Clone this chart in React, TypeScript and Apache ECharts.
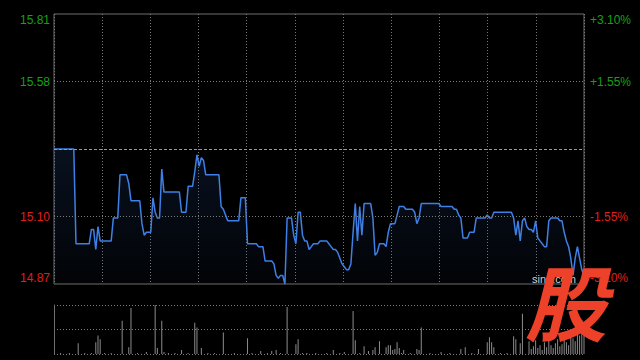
import React, { useEffect, useRef } from 'react';
import * as echarts from 'echarts';

// Intraday price, one value per minute (9:30-11:30, 13:00-15:00)
const PRICE = [
  15.34, 15.34, 15.34, 15.34, 15.34, 15.34, 15.34, 15.34, 15.34, 15.34,
  15.01, 15.01, 15.01, 15.01, 15.01, 15.01, 15.01, 15.06, 15.06, 14.99,
  15.07, 15.02, 15.02, 15.02, 15.02, 15.02, 15.02, 15.10, 15.10, 15.10,
  15.25, 15.25, 15.25, 15.25, 15.22, 15.16, 15.16, 15.16, 15.16, 15.16,
  15.08, 15.04, 15.05, 15.05, 15.05, 15.17, 15.12, 15.10, 15.10, 15.27,
  15.19, 15.19, 15.19, 15.19, 15.19, 15.19, 15.19, 15.19, 15.12, 15.12,
  15.12, 15.21, 15.21, 15.21, 15.26, 15.32, 15.28, 15.31, 15.30, 15.25,
  15.25, 15.25, 15.25, 15.25, 15.25, 15.25, 15.14, 15.13, 15.11, 15.09,
  15.09, 15.09, 15.09, 15.09, 15.09, 15.17, 15.17, 15.17, 15.01, 15.01,
  15.01, 15.01, 15.01, 15.00, 15.00, 15.00, 14.95, 14.95, 14.95, 14.95,
  14.94, 14.90, 14.89, 14.90, 14.90, 14.87, 15.10, 15.10, 15.10, 15.04,
  15.01, 15.12, 15.12, 15.04, 15.02, 15.02, 14.99, 15.00, 15.01, 15.01,
  15.01, 15.02, 15.02, 15.02, 15.02, 15.01, 15.00, 14.99, 14.99, 14.98,
  14.96, 14.94, 14.93, 14.92, 14.92, 14.94, 15.05, 15.15, 15.02, 15.14,
  15.04, 15.15, 15.15, 15.15, 15.15, 15.10, 14.97, 14.98, 15.01, 15.01,
  15.01, 15.00, 15.05, 15.08, 15.08, 15.08, 15.11, 15.14, 15.14, 15.14,
  15.13, 15.13, 15.13, 15.13, 15.12, 15.08, 15.10, 15.15, 15.15, 15.15,
  15.15, 15.15, 15.15, 15.15, 15.15, 15.15, 15.14, 15.14, 15.14, 15.14,
  15.14, 15.14, 15.13, 15.13, 15.11, 15.10, 15.03, 15.03, 15.03, 15.05,
  15.05, 15.05, 15.10, 15.10, 15.10, 15.10, 15.10, 15.11, 15.10, 15.10,
  15.12, 15.12, 15.12, 15.12, 15.12, 15.12, 15.12, 15.12, 15.12, 15.10,
  15.04, 15.09, 15.02, 15.09, 15.10, 15.07, 15.06, 15.06, 15.05, 15.09,
  15.03, 15.02, 15.01, 15.00, 15.00, 15.09, 15.10, 15.10, 15.10, 15.10,
  15.09, 15.09, 15.05, 15.02, 15.00, 14.96, 14.90, 14.96, 15.00, 14.96,
  14.92, 14.90,
];

// Volume per minute (relative units)
const VOLUME = [
  0, 0, 0, 1, 0, 0, 0, 1, 0, 0,
  0, 11, 0, 0, 1, 0, 0, 1, 0, 12,
  19, 15, 0, 1, 0, 0, 1, 0, 0, 0,
  0, 34, 0, 0, 7, 47, 0, 0, 1, 0,
  0, 0, 2, 0, 0, 0, 50, 6, 0, 34,
  2, 0, 1, 0, 0, 1, 0, 0, 4, 0,
  0, 1, 0, 0, 32, 27, 0, 6, 0, 0,
  1, 0, 0, 1, 0, 0, 0, 22, 0, 0,
  0, 0, 1, 0, 0, 0, 0, 0, 16, 0,
  1, 0, 0, 0, 3, 0, 0, 1, 0, 3,
  0, 4, 0, 1, 0, 0, 48, 0, 0, 0,
  10, 15, 0, 1, 0, 1, 0, 0, 0, 1,
  0, 0, 0, 0, 1, 0, 0, 4, 0, 0,
  1, 0, 2, 0, 0, 0, 44, 14, 0, 1,
  0, 8, 0, 3, 0, 4, 7, 0, 13, 0,
  0, 7, 9, 9, 4, 5, 12, 6, 1, 4,
  0, 0, 1, 0, 0, 5, 4, 27, 0, 0,
  0, 1, 0, 0, 0, 0, 2, 0, 0, 0,
  1, 0, 0, 0, 0, 5, 0, 7, 0, 0,
  1, 0, 0, 5, 0, 0, 0, 12, 17, 12,
  7, 0, 0, 1, 0, 0, 1, 0, 0, 18,
  15, 0, 11, 41, 0, 0, 13, 5, 8, 14,
  6, 9, 4, 12, 7, 20, 9, 6, 11, 15,
  8, 10, 18, 12, 9, 22, 16, 13, 24, 19,
  27, 26,
];

const PRICE_MIN = 14.87;
const PRICE_MAX = 15.81;
const PREV_CLOSE = 15.34;
const VOLUME_MAX = 50;
const LEFT_LABELS = ['14.87', '15.10', '', '15.58', '15.81'];
const RIGHT_LABELS = ['-3.10%', '-1.55%', '', '+1.55%', '+3.10%'];

const GREEN = '#16a016';
const RED = '#e01e1a';
const GRID_GRAY = '#7a7a7a';
const BORDER_GRAY = '#6e6e6e';
const FONT = 'Arial, "Liberation Sans", sans-serif';

// scaled units (thousandths) so that ticks land on integers
const SCALE = 1000;
const STEP = Math.round(((PRICE_MAX - PRICE_MIN) * SCALE) / 4);
const YMAX = STEP * 4;
const XSTEP = 11; // x = minute * 11, 11 equal parts of the day
const XMAX = (PRICE.length - 1) * XSTEP;

export default function App() {
  const ref = useRef<HTMLDivElement>(null);

  useEffect(() => {
    if (!ref.current) return;
    const chart = echarts.init(ref.current, null, { renderer: 'svg' });

    const idxOf = (v: any) => Math.round(Number(v) / STEP);

    const option: any = {
      backgroundColor: '#000000',
      animation: false,
      grid: [
        {
          left: 54, top: 14, width: 530, height: 270,
          show: true, borderColor: BORDER_GRAY, borderWidth: 1, backgroundColor: 'transparent',
        },
        { left: 54, top: 305, width: 530, height: 49, show: false },
      ],
      xAxis: [
        {
          type: 'value', gridIndex: 0, min: 0, max: XMAX, interval: XMAX / 11,
          axisLine: { show: false }, axisTick: { show: false }, axisLabel: { show: false },
          splitLine: { show: true, lineStyle: { color: GRID_GRAY, type: [1, 2], width: 1 } },
        },
        {
          type: 'value', gridIndex: 1, min: 0, max: XMAX, show: false,
          splitLine: { show: false },
        },
      ],
      yAxis: [
        {
          type: 'value', gridIndex: 0, position: 'left', min: 0, max: YMAX, interval: STEP,
          axisLine: { show: false }, axisTick: { show: false }, splitLine: { show: false },
          axisLabel: {
            margin: 4, fontSize: 12, fontFamily: FONT,
            formatter: (v: any) => LEFT_LABELS[idxOf(v)] ?? '',
            color: (v: any) => (idxOf(v) >= 2 ? GREEN : RED),
            verticalAlignMinLabel: 'bottom', verticalAlignMaxLabel: 'top',
          },
        },
        {
          type: 'value', gridIndex: 0, position: 'right', min: 0, max: YMAX, interval: STEP,
          axisLine: { show: false }, axisTick: { show: false }, splitLine: { show: false },
          axisLabel: {
            margin: 6, fontSize: 12, fontFamily: FONT,
            formatter: (v: any) => RIGHT_LABELS[idxOf(v)] ?? '',
            color: (v: any) => (idxOf(v) >= 2 ? GREEN : RED),
            verticalAlignMinLabel: 'bottom', verticalAlignMaxLabel: 'top',
          },
        },
        {
          type: 'value', gridIndex: 1, min: 0, max: VOLUME_MAX, interval: VOLUME_MAX / 2,
          axisLine: { show: true, lineStyle: { color: BORDER_GRAY, width: 1 } },
          axisTick: { show: false }, axisLabel: { show: false },
          splitLine: { show: true, lineStyle: { color: GRID_GRAY, type: [1, 2], width: 1 } },
        },
      ],
      series: [
        {
          type: 'line',
          xAxisIndex: 0, yAxisIndex: 0,
          data: PRICE.map((p, i) => [i * XSTEP, Math.round((p - PRICE_MIN) * SCALE)]),
          symbol: 'none', showSymbol: false,
          lineStyle: { color: '#3f80e6', width: 1.5 },
          areaStyle: {
            color: new echarts.graphic.LinearGradient(0, 0, 0, 1, [
              { offset: 0, color: 'rgba(40,80,150,0.30)' },
              { offset: 1, color: 'rgba(40,80,150,0.06)' },
            ]),
          },
          z: 3,
          markLine: {
            silent: true, symbol: ['none', 'none'], label: { show: false }, animation: false,
            data: [
              { yAxis: STEP, lineStyle: { color: GRID_GRAY, type: [1, 2], width: 1 } },
              { yAxis: STEP * 3, lineStyle: { color: GRID_GRAY, type: [1, 2], width: 1 } },
              {
                yAxis: Math.round((PREV_CLOSE - PRICE_MIN) * SCALE),
                lineStyle: { color: '#9a9a9a', type: [3, 2], width: 1 },
              },
            ],
          },
        },
        {
          type: 'bar',
          xAxisIndex: 1, yAxisIndex: 2,
          data: VOLUME.map((v, i) => [i * XSTEP, v]),
          barWidth: 1,
          itemStyle: { color: '#8c8c8c' },
        },
      ],
      graphic: [
        {
          type: 'text', x: 532, y: 279, z: 50,
          style: { text: 'sina.com', fill: '#d0d0d0', font: '11px Arial, "Liberation Sans", sans-serif', verticalAlign: 'middle' },
        },
        {
          type: 'text', x: 566, y: 299, z: 100, scaleX: 1.0,
          style: {
            text: '股', fill: '#ee4129',
            font: 'italic bold 82px "Noto Sans CJK SC", sans-serif',
            align: 'center', verticalAlign: 'middle',
          },
        },
      ],
    };

    chart.setOption(option);
    return () => chart.dispose();
  }, []);

  return (
    <div
      ref={ref}
      style={{ position: 'fixed', left: 0, top: 0, width: 640, height: 360, background: '#000' }}
    />
  );
}
